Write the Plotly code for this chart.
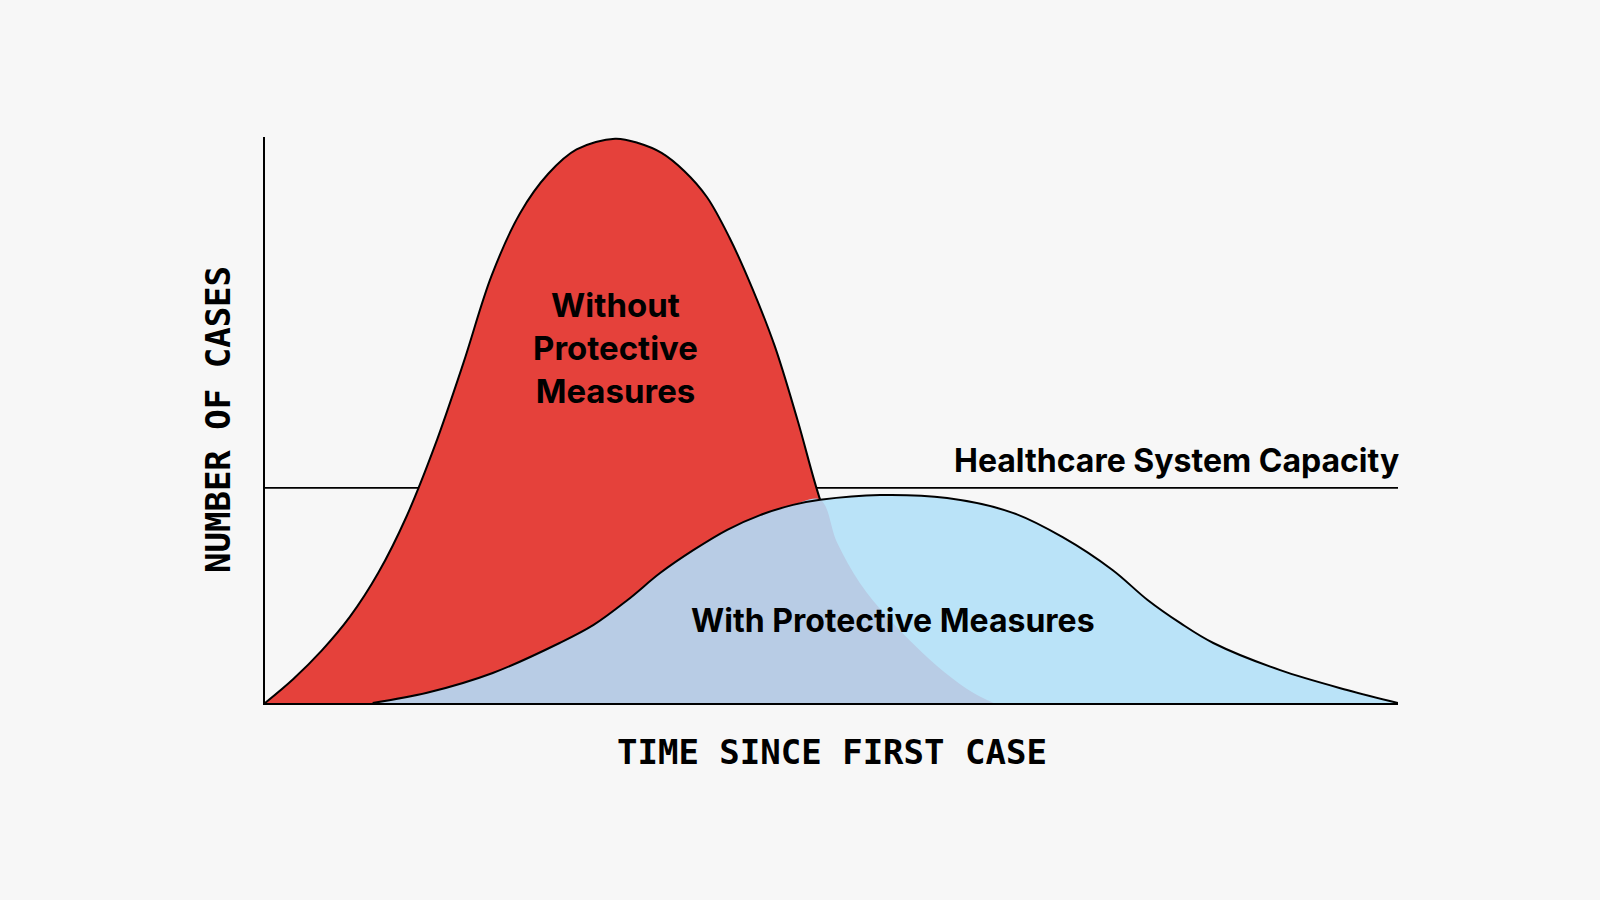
import plotly.graph_objects as go

# Time since first case (0-100) and number of cases (0-100)
red_x = [0, 2.5, 5, 7.5, 10, 12.5, 15, 17.5, 20, 22.5, 25, 27.5, 30.9,
         33, 35, 37, 39, 41, 43, 45, 47,
         49.0, 50.5, 52.5, 55, 57.5, 60, 62.5, 64.3]
red_y = [0, 4.25, 9.25, 15.25, 23.0, 33.0, 45.5, 60, 75.5, 86.5, 93.5, 97.8, 99.7,
         98.9, 97.2, 94.0, 89.4, 82.2, 73.3, 63, 50,
         35.9, 28.3, 21.2, 15.0, 9.9, 5.4, 1.8, 0]

blue_x = [9.5, 14.3, 20.1, 26.0, 29.0, 32.0, 34.9, 37.8, 40.8, 43.7, 46.6, 49.0, 54.3, 60.2, 66.0,
          70.4, 74.8, 77.9, 80.8, 83.7, 89.6, 95.5, 100]
blue_y = [0, 1.8, 5.3, 10.6, 13.8, 18.2, 23.0, 27.0, 30.6, 33.2, 35.0, 35.9, 36.75, 36.2, 33.6,
          29.3, 23.5, 18.2, 14.1, 10.6, 5.8, 2.3, 0]

capacity = 38.0
crossing_x = 49.0  # where the red curve drops under the blue one

# area under both curves: blue up to the crossing, then the red tail
both_x = [x for x in blue_x if x <= crossing_x] + [x for x in red_x if x > crossing_x]
both_y = [y for x, y in zip(blue_x, blue_y) if x <= crossing_x] + \
         [y for x, y in zip(red_x, red_y) if x > crossing_x]

RED = "#e5413b"
LIGHT_BLUE = "#bae3f8"
OVERLAP = "#b8cce5"
BG = "#f7f7f7"
SMOOTH = 1.0

fig = go.Figure()

fig.add_trace(go.Scatter(x=red_x, y=red_y, mode="lines",
                         line=dict(color="black", width=2, shape="spline", smoothing=SMOOTH),
                         fill="tozeroy", fillcolor=RED))
fig.add_trace(go.Scatter(x=blue_x, y=blue_y, mode="lines", line=dict(width=0, shape="spline", smoothing=SMOOTH),
                         fill="tozeroy", fillcolor=LIGHT_BLUE))
fig.add_trace(go.Scatter(x=both_x, y=both_y, mode="lines", line=dict(width=0, shape="spline", smoothing=SMOOTH),
                         fill="tozeroy", fillcolor=OVERLAP))
fig.add_trace(go.Scatter(x=blue_x, y=blue_y, mode="lines",
                         line=dict(color="black", width=2, shape="spline", smoothing=SMOOTH)))

fig.add_shape(type="line", x0=0, x1=100, y0=capacity, y1=capacity, layer="below",
              line=dict(color="black", width=1.8))

label_font = dict(family="Inter", size=32, color="black", weight=700)
fig.add_annotation(x=30.9, y=62.7, text="Without<br>Protective<br>Measures", showarrow=False,
                   font=dict(label_font, size=33), align="center")
fig.add_annotation(x=55.4, y=14.5, text="With Protective Measures", showarrow=False, font=label_font)
fig.add_annotation(x=100, y=42.8, text="Healthcare System Capacity", showarrow=False, font=label_font,
                   xanchor="right", xshift=3)

title_font = dict(family="DejaVu Sans Mono", size=34, color="black", weight=700)
fig.add_annotation(xref="paper", yref="paper", x=0.5, y=0, yshift=-49, text="TIME SINCE FIRST CASE",
                   showarrow=False, font=title_font, yanchor="middle")
fig.add_annotation(xref="paper", yref="paper", x=0, y=0.5, xshift=-47, text="NUMBER OF CASES",
                   showarrow=False, font=title_font, textangle=-90, xanchor="center")

fig.update_xaxes(range=[0, 100], showline=True, linecolor="black", linewidth=1.8, showgrid=False,
                 zeroline=False, showticklabels=False, ticks="")
fig.update_yaxes(range=[0, 100], showline=True, linecolor="black", linewidth=1.8, showgrid=False,
                 zeroline=False, showticklabels=False, ticks="")

fig.update_layout(width=1600, height=900, margin=dict(l=265, r=202, t=137, b=197),
                  paper_bgcolor=BG, plot_bgcolor=BG, showlegend=False, hovermode=False)

fig.write_html("out.html", config={"displayModeBar": False},
               post_script="document.body.style.margin='0';document.body.style.background='#f7f7f7';")
